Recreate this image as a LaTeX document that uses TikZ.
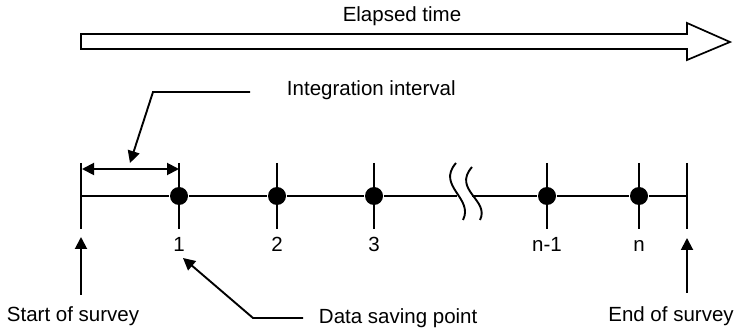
\documentclass[tikz,border=0pt]{standalone}
\usepackage{fontspec}
\setmainfont{Liberation Sans}
\usetikzlibrary{arrows.meta,positioning}

\begin{document}
\begin{tikzpicture}[x=1pt,y=-1pt,>={Triangle[length=12pt,width=12pt]},line width=1.9pt,
  every node/.style={font=\fontsize{20.5}{24}\selectfont,inner sep=0pt},
  savedot/.style={circle,fill,minimum size=18pt},
  endtick/.style={line width=1.9pt}]
\useasboundingbox (0,0) rectangle (738,328);
% elapsed time arrow
\draw[line width=1.7pt] (81,34) -- (687,34) -- (687,23) -- (730,42) -- (687,60) -- (687,49) -- (81,49) -- cycle;
\node (elapsed) at (402,16) {Elapsed time};
% time line with saving points
\coordinate (start) at (81,196);\coordinate (end) at (687,196);
\coordinate (brkL) at (457,196);\coordinate (brkR) at (472,196);
\foreach \n/\x/\t in {d1/179/1,d2/277/2,d3/374/3,dn1/547/n-1,dn/639/n}{
  \draw (\x,163) -- (\x,229);
  \node[savedot] (\n) at (\x,196) {};
  \node[anchor=base] (\n-lbl) at (\x,252) {\t};
}
\draw[endtick] (81,163) -- (81,229);\draw[endtick] (687,163) -- (687,229);
\draw (start) -- (d1) -- (d2) -- (d3) -- (brkL);
\draw (brkR) -- (dn1) -- (dn) -- (end);
% break mark
\draw (456,163) .. controls (436,186) and (474,198) .. (463,220);
\draw (472,167) .. controls (452,190) and (490,200) .. (480,220);
% integration interval
\coordinate (iv1) at (82,169);\coordinate (iv2) at (179,169);
\draw[<->] (iv1) -- (iv2);
\node[anchor=west] (integ) at (286,90) {Integration interval};
\coordinate (ivend) at (250,92);\coordinate (ivelbow) at (153,92);\coordinate (ivtip) at (130,163);
\draw[->] (ivend) -- (ivelbow) -- (ivtip);
% start / end of survey
\node (startlbl) at (73,316) {Start of survey};
\node (endlbl) at (671,316) {End of survey};
\coordinate (sa1) at (81,295);\coordinate (sa2) at (81,237);
\coordinate (ea1) at (687,293);\coordinate (ea2) at (687,238);
\draw[->] (sa1) -- (sa2);\draw[->] (ea1) -- (ea2);
% data saving point
\node[anchor=west] (savelbl) at (318,318) {Data saving point};
\coordinate (svend) at (303,318);\coordinate (svelbow) at (253,318);\coordinate (svtip) at (183,258);
\draw[->] (svend) -- (svelbow) -- (svtip);
\end{tikzpicture}
\end{document}
